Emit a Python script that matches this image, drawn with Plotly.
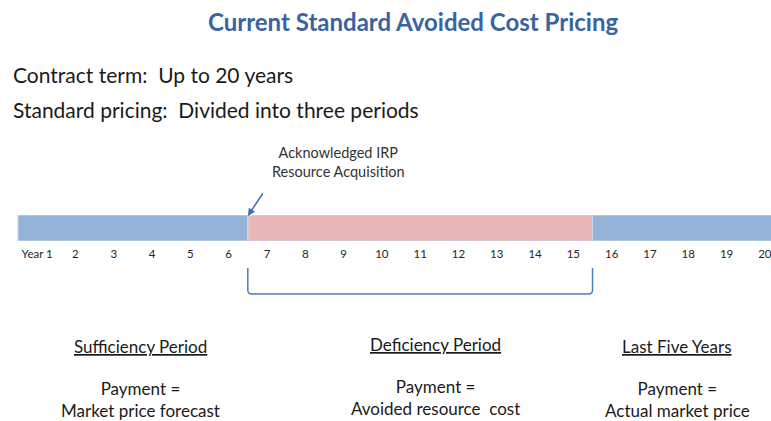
import plotly.graph_objects as go

# ---- data ----
years = list(range(1, 21))
year_labels = ["Year 1"] + [str(y) for y in years[1:]]
period_names = ["Sufficiency Period", "Deficiency Period", "Last Five Years"]
period_start = [1, 7, 16]
period_end = [6, 15, 20]
period_colors = ["#95b3d7", "#e6b9b8", "#95b3d7"]
payment_desc = ["Market price forecast", "Avoided resource  cost", "Actual market price"]

W, H = 771, 421
FONT = "Lato"
TXT = "#1a1a1a"

fig = go.Figure()
for name, s, e, c in zip(period_names, period_start, period_end, period_colors):
    fig.add_trace(go.Bar(
        y=[0], x=[e - s + 1], base=[s - 0.5], orientation="h",
        marker=dict(color=c, line=dict(color="#c9d8ea", width=1)),
        width=1, name=name, showlegend=False, hoverinfo="name",
    ))

# px helpers for layout placement
def py(p):
    return 1 - p / H

def px(p):
    return p / W

bar_top, bar_bot = 215, 241

annotations = [
    dict(text="<b>Current Standard Avoided Cost Pricing</b>", x=px(413), y=py(22),
         font=dict(size=24, color="#3a63a0")),
    dict(text="Contract term:  Up to 20 years", x=px(11), y=py(74), xanchor="left",
         font=dict(size=21, color=TXT)),
    dict(text="Standard pricing:  Divided into three periods", x=px(11), y=py(110), xanchor="left",
         font=dict(size=21, color=TXT)),
    dict(text="Acknowledged IRP<br>Resource Acquisition", x=px(338), y=py(162),
         font=dict(size=14.5, color="#333333")),
]
centers = [140, 435, 677]
head_y = [346, 344, 346]
for name, desc, cx, hy in zip(period_names, payment_desc, centers, head_y):
    annotations.append(dict(text="<u>" + name + "</u>", x=px(cx), y=py(hy),
                            font=dict(size=17, color=TXT)))
    annotations.append(dict(text="Payment =<br>" + desc, x=px(cx), y=py(hy + 53),
                            font=dict(size=17, color=TXT)))
for a in annotations:
    a.setdefault("xref", "paper")
    a.setdefault("yref", "paper")
    a.setdefault("showarrow", False)
    a.setdefault("xanchor", "center")
    a.setdefault("yanchor", "middle")
    a["font"]["family"] = FONT

# arrow to start of deficiency period
annotations.append(dict(x=period_start[1] - 0.5, y=py(bar_top + 1), xref="x", yref="paper",
                        ax=16, ay=-24, axref="pixel", ayref="pixel",
                        showarrow=True, arrowhead=2, arrowsize=1, arrowwidth=1.5,
                        arrowcolor="#3f6fb5", text=""))

# bracket under deficiency period
x0 = period_start[1] - 0.5
x1 = period_end[1] + 0.5
shapes = [
    dict(type="path", xref="x", yref="paper",
         path=f"M {x0},{py(268)} L {x0},{py(290)} Q {x0},{py(294)} {x0 + 0.1},{py(294)} "
              f"L {x1 - 0.1},{py(294)} Q {x1},{py(294)} {x1},{py(290)} L {x1},{py(268)}",
         line=dict(color="#4f7cc0", width=1.5)),
]

fig.update_layout(
    width=W, height=H,
    margin=dict(l=0, r=0, t=0, b=0),
    paper_bgcolor="white", plot_bgcolor="white",
    barmode="overlay",
    annotations=annotations, shapes=shapes,
    xaxis=dict(range=[0.03, 20.16], tickvals=years, ticktext=year_labels,
               showgrid=False, zeroline=False, showline=False, ticks="",
               tickfont=dict(family=FONT, size=11.5, color="#262626"),
               ticklabelstandoff=4, ticklabeloverflow="allow", fixedrange=True),
    yaxis=dict(range=[-0.5, 0.5], domain=[py(bar_bot), py(bar_top)], visible=False,
               fixedrange=True),
    font=dict(family=FONT),
)

fig.write_html("out.html", config={"displayModeBar": False},
               post_script="document.body.style.margin='0';")
